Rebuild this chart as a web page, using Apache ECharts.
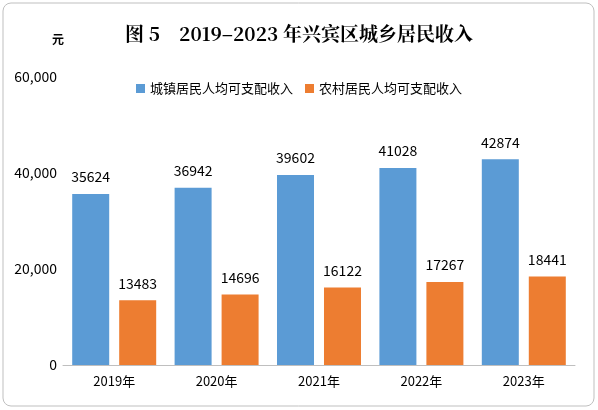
<!DOCTYPE html>
<html>
<head>
<meta charset="utf-8">
<script src="https://cdn.jsdelivr.net/npm/echarts@6/dist/echarts.min.js"></script>
<style>
html, body { margin: 0; padding: 0; background: #fff; }
#chart { width: 598px; height: 410px; }
</style>
</head>
<body>
<div id="chart"></div>
<script>
// 年份
const years = ['2019年', '2020年', '2021年', '2022年', '2023年'];
// 城镇居民人均可支配收入
const urban = [35624, 36942, 39602, 41028, 42874];
// 农村居民人均可支配收入
const rural = [13483, 14696, 16122, 17267, 18441];

const chart = echarts.init(document.getElementById('chart'));
const font = '"Noto Sans CJK SC", "DejaVu Sans", sans-serif';

chart.setOption({
    animation: false,
    textStyle: { fontFamily: font },
    graphic: [
        {
            type: 'rect',
            shape: { x: 3, y: 3, width: 591, height: 403, r: 8 },
            style: { fill: 'none', stroke: '#bfbfbf', lineWidth: 1 }
        },
        {
            type: 'text', left: 52, top: 33,
            style: { text: '元', font: 'bold 12px "Noto Sans CJK SC"', fill: '#000' }
        },
        {
            type: 'text', left: 'center', top: 24,
            style: { text: '图 5　2019–2023 年兴宾区城乡居民收入', font: 'bold 19px "Noto Serif CJK SC", "Noto Sans CJK SC", serif', fill: '#000' }
        }
    ],
    legend: {
        top: 77, left: 'center',
        itemWidth: 9, itemHeight: 9, itemGap: 12,
        icon: 'rect',
        textStyle: { fontSize: 13, color: '#000', fontFamily: font },
        data: ['城镇居民人均可支配收入', '农村居民人均可支配收入']
    },
    grid: { left: 63, right: 23, top: 77, bottom: 45, containLabel: false },
    xAxis: {
        type: 'category',
        data: years,
        axisTick: { show: false },
        axisLine: { lineStyle: { color: '#bfbfbf' } },
        axisLabel: { color: '#000', fontSize: 13, margin: 10 }
    },
    yAxis: {
        type: 'value',
        min: 0, max: 60000, interval: 20000,
        splitLine: { show: false },
        axisLine: { show: false },
        axisTick: { show: false },
        axisLabel: { color: '#000', fontSize: 14, margin: 6 }
    },
    series: [
        {
            name: '城镇居民人均可支配收入', type: 'bar', data: urban,
            barWidth: 37, barGap: '27%',
            itemStyle: { color: '#5B9BD5' },
            label: { show: true, position: 'top', distance: 10, color: '#000', fontSize: 14 }
        },
        {
            name: '农村居民人均可支配收入', type: 'bar', data: rural,
            barWidth: 37,
            itemStyle: { color: '#ED7D31' },
            label: { show: true, position: 'top', distance: 10, color: '#000', fontSize: 14 }
        }
    ]
});
</script>
</body>
</html>
